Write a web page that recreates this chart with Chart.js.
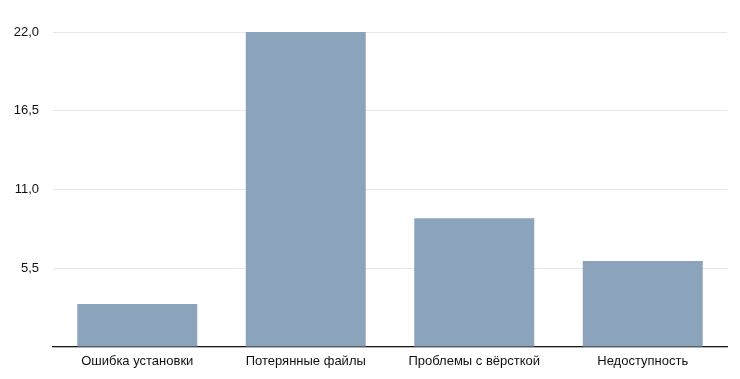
<!DOCTYPE html>
<html>
<head>
<meta charset="utf-8">
<script src="https://cdn.jsdelivr.net/npm/chart.js@4/dist/chart.umd.min.js"></script>
<style>
html,body{margin:0;padding:0;background:#fff;}
#wrap{width:740px;height:379px;}
</style>
</head>
<body>
<div id="wrap"><canvas id="c" width="740" height="379"></canvas></div>
<script>
const categories = ["Ошибка установки", "Потерянные файлы", "Проблемы с вёрсткой", "Недоступность"];
const values = [3, 22, 9, 6];
const yMax = 22;
const yStep = 5.5;

new Chart(document.getElementById('c'), {
  type: 'bar',
  data: {
    labels: categories,
    datasets: [{
      data: values,
      backgroundColor: 'rgb(139,163,187)',
      borderWidth: 0,
      categoryPercentage: 0.712,
      barPercentage: 1.0
    }]
  },
  options: {
    responsive: false,
    animation: false,
    devicePixelRatio: 1,
    layout: { padding: { left: 0, right: 13, top: 32, bottom: 0 } },
    plugins: { legend: { display: false }, tooltip: { enabled: false } },
    scales: {
      x: {
        grid: { display: false, drawTicks: false },
        border: { display: true, color: '#1a1a1a', width: 1.2 },
        ticks: { color: '#111', font: { family: 'Liberation Sans', size: 13 }, padding: 7, maxRotation: 0 },
        afterFit: (s) => { s.height = 32; }
      },
      y: {
        min: 0, max: yMax,
        grid: { color: '#e6e6e6', drawTicks: false, lineWidth: 1 },
        border: { display: false },
        ticks: {
          stepSize: yStep,
          color: '#111',
          font: { family: 'Liberation Sans', size: 13 },
          padding: 14,
          callback: (v) => v === 0 ? '' : v.toFixed(1).replace('.', ',')
        },
        afterFit: (s) => { s.width = 53; }
      }
    }
  }
});
</script>
</body>
</html>
